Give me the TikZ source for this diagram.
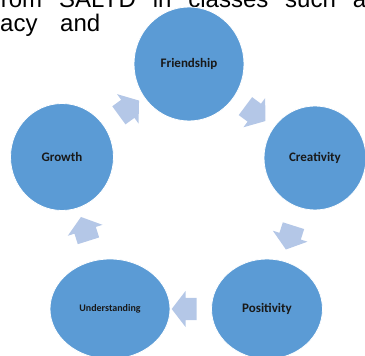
\documentclass[tikz,border=0pt]{standalone}
\usepackage{fontspec}
\setmainfont{Liberation Sans}
\newfontfamily\labelfont{Carlito}
\usetikzlibrary{shapes.geometric,shapes.arrows,calc}
\definecolor{circblue}{HTML}{5B9BD5}
\definecolor{arrowblue}{HTML}{B4C7E7}

\begin{document}
\begin{tikzpicture}[x=1pt, y=1pt, main/.style = {ellipse, draw=white, line width=0.8pt, fill=circblue, inner sep=0pt, text=black!90, font=\labelfont\bfseries\fontsize{13}{15}\selectfont},   flow/.style = {single arrow, fill=arrowblue, draw=none, inner xsep=0pt, inner ysep=11pt, minimum height=25pt, single arrow head extend=7pt, single arrow tip angle=105},   body/.style = {anchor=base west, inner sep=0pt, font=\fontsize{24}{28}\selectfont}]
        \useasboundingbox (0,0) rectangle (365,356);
        \node[body] (t1) at (-6,348) {\makebox[372pt][s]{from SALYD in classes such a}};
        \node[body] (t2) at (0,324) {acy};
        \node[body] (t3) at (60,324) {and};
        \node[main, minimum width=110pt, minimum height=114pt] (1) at (189,292) {Friendship};
        \node[main, minimum width=102pt, minimum height=104pt] (2) at (315,198) {Creativity};
        \node[main, minimum width=111pt, minimum height=100pt] (3) at (267,47) {Positivity};
        \node[main, minimum width=120pt, minimum height=100pt, font=\labelfont\bfseries\fontsize{10}{12}\selectfont] (4) at (110,47) {Understanding};
        \node[main, minimum width=103pt, minimum height=107pt] (5) at (62,199) {Growth};
        \node[flow, rotate=-36.7] (12) at ($(1)!0.5!(2)$) {};
        \node[flow, rotate=-107.6] (23) at ($(2)!0.5!(3)$) {};
        \node[flow, rotate=180] (34) at ($(3)!0.5!(4)$) {};
        \node[flow, rotate=107.5] (45) at ($(4)!0.5!(5)$) {};
        \node[flow, rotate=36.2] (51) at ($(5)!0.5!(1)$) {};
    \end{tikzpicture}
\end{document}
